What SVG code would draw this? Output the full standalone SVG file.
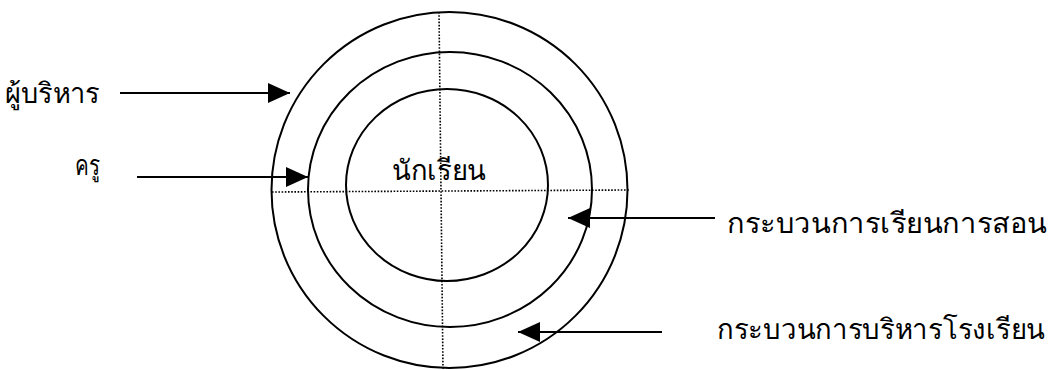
<svg xmlns="http://www.w3.org/2000/svg" width="1052" height="370" viewBox="0 0 1052 370">
<style>
.ring{fill:none;stroke:#000;stroke-width:2}
.dot{stroke:#000;stroke-width:1.6;stroke-dasharray:1.6 1.6;fill:none}
.arr{stroke:#000;stroke-width:2;fill:none;marker-end:url(#ah)}
.lbl{font-family:"Noto Sans","Liberation Sans",sans-serif;font-size:28px;fill:#000}
</style>
<defs>
<marker id="ah" markerUnits="userSpaceOnUse" markerWidth="22" markerHeight="22" viewBox="0 0 20 20" refX="20" refY="10" orient="auto">
<path d="M0,1 L20,10 L0,19 Z" fill="#000"/>
</marker>
</defs>
<rect width="1052" height="370" fill="#fff"/>
<g id="rings">
<circle id="outer" class="ring" cx="449.5" cy="190" r="178"/>
<ellipse id="middle" class="ring" cx="450" cy="189.5" rx="142" ry="137.5"/>
<ellipse id="inner" class="ring" cx="447" cy="185" rx="101" ry="96"/>
<line class="dot" x1="439" y1="12" x2="443" y2="370"/>
<line class="dot" x1="272" y1="192" x2="629" y2="190"/>
</g>
<g id="student"><text class="lbl" x="392" y="180" textLength="94" lengthAdjust="spacingAndGlyphs">นักเรียน</text></g>
<g id="admin"><text class="lbl" x="5" y="103" textLength="95" lengthAdjust="spacingAndGlyphs">ผู้บริหาร</text></g>
<g id="teacher"><text class="lbl" x="75" y="175" textLength="25" lengthAdjust="spacingAndGlyphs">ครู</text></g>
<g id="teaching"><text class="lbl" x="727" y="233" textLength="320" lengthAdjust="spacingAndGlyphs">กระบวนการเรียนการสอน</text></g>
<g id="management"><text class="lbl" x="717" y="339" textLength="328" lengthAdjust="spacingAndGlyphs">กระบวนการบริหารโรงเรียน</text></g>
<g id="connectors">
<line class="arr" x1="120" y1="93" x2="290" y2="93"/>
<line class="arr" x1="137" y1="177" x2="308" y2="177"/>
<line class="arr" x1="715" y1="218" x2="568" y2="218"/>
<line class="arr" x1="662" y1="332" x2="518" y2="332"/>
</g>
</svg>
